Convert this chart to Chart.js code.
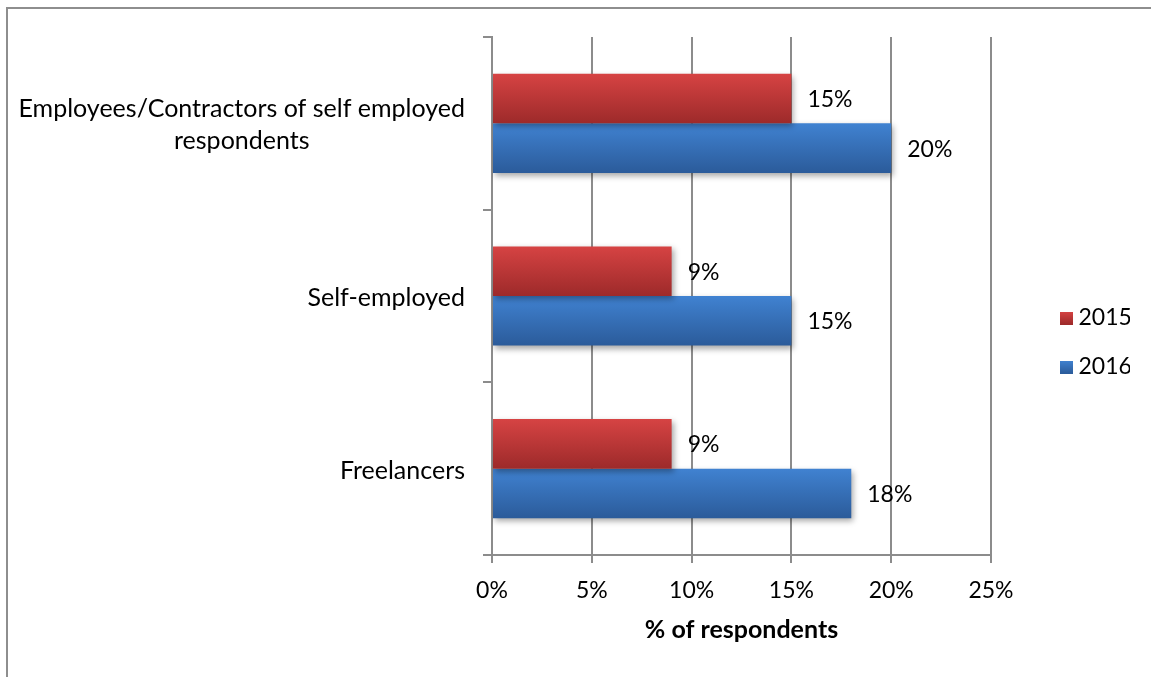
<!DOCTYPE html>
<html>
<head>
<meta charset="utf-8">
<script src="https://cdn.jsdelivr.net/npm/chart.js@4.4.1/dist/chart.umd.min.js"></script>
<style>
  html, body { margin: 0; padding: 0; background: #fff; }
  #wrap { position: relative; width: 1151px; height: 677px; }
</style>
</head>
<body>
<div id="wrap"><canvas id="c"></canvas></div>
<script>
// Respondent groups, top to bottom
const categories = [
  ['Employees/Contractors of self employed', 'respondents'],
  'Self-employed',
  'Freelancers'
];
const seriesNames = ['2015', '2016'];
const values2015 = [15, 9, 9];
const values2016 = [20, 15, 18];
const xTicks = [0, 5, 10, 15, 20, 25];

const FONT = 'Lato';
const NUM_SIZE = 23;   // numbers: ticks, value labels, legend
const TEXT_SIZE = 25;  // words: category names, axis title
const GRID = '#8c8c8c';
const CAT_PCT = 0.574;
// top / bottom colours of each series' vertical gradient
const palettes = [['#d64343', '#9d2a2a'], ['#4082d1', '#2b5b9a']];

function barFill(ctx) {
  const pal = palettes[ctx.datasetIndex];
  const chart = ctx.chart;
  const y = chart.scales && chart.scales.y;
  if (!y || ctx.dataIndex === undefined) return pal[0];
  const n = chart.data.labels.length;
  const band = (y.bottom - y.top) / n;
  const size = band * CAT_PCT / chart.data.datasets.length;
  const start = y.getPixelForValue(ctx.dataIndex) - band * CAT_PCT / 2 + ctx.datasetIndex * size;
  if (!isFinite(start) || !isFinite(size) || size <= 0) return pal[0];
  const g = chart.ctx.createLinearGradient(0, start, 0, start + size);
  g.addColorStop(0, pal[0]);
  g.addColorStop(1, pal[1]);
  return g;
}

function legendKey(pal) {
  const k = document.createElement('canvas');
  k.width = 13; k.height = 13;
  const c = k.getContext('2d');
  const g = c.createLinearGradient(0, 0, 0, 13);
  g.addColorStop(0, pal[0]);
  g.addColorStop(1, pal[1]);
  c.fillStyle = g;
  c.fillRect(0, 0, 13, 13);
  return k;
}

// white page with the grey frame on the top and left edges
const frame = {
  id: 'frame',
  beforeDraw(chart) {
    const c = chart.ctx;
    c.save();
    c.fillStyle = '#fff';
    c.fillRect(0, 0, chart.width, chart.height);
    c.fillStyle = '#8e8e8e';
    c.fillRect(6, 7, 2, chart.height);
    c.fillRect(6, 7, chart.width, 2);
    c.restore();
  }
};

// soft drop shadow under the bars
const barShadow = {
  id: 'barShadow',
  beforeDatasetsDraw(chart) {
    const c = chart.ctx;
    c.save();
    c.shadowColor = 'rgba(0,0,0,0.35)';
    c.shadowBlur = 6;
    c.shadowOffsetX = 2;
    c.shadowOffsetY = 3;
  },
  afterDatasetsDraw(chart) {
    chart.ctx.restore();
  }
};

// value labels at the end of each bar
const valueLabels = {
  id: 'valueLabels',
  afterDraw(chart) {
    const c = chart.ctx;
    c.save();
    c.font = NUM_SIZE + 'px ' + FONT;
    c.fillStyle = '#000';
    c.textAlign = 'left';
    c.textBaseline = 'middle';
    chart.data.datasets.forEach((ds, di) => {
      chart.getDatasetMeta(di).data.forEach((el, i) => {
        c.fillText(ds.data[i] + '%', el.x + 16, el.y + 1);
      });
    });
    c.restore();
  }
};

// category names left of the axis; wrapped names are centred on their widest line
const categoryLabels = {
  id: 'categoryLabels',
  afterDraw(chart) {
    const c = chart.ctx;
    const y = chart.scales.y;
    const right = chart.chartArea.left - 27;
    c.save();
    c.font = TEXT_SIZE + 'px ' + FONT;
    c.fillStyle = '#000';
    c.textBaseline = 'middle';
    chart.data.labels.forEach((lab, i) => {
      const lines = [].concat(lab);
      const maxW = Math.max(...lines.map(l => c.measureText(l).width));
      const cy = y.getPixelForValue(i);
      const multi = lines.length > 1;
      lines.forEach((l, j) => {
        const ly = cy + 2 + (j - (lines.length - 1) / 2) * 32;
        c.textAlign = multi ? 'center' : 'right';
        c.fillText(l, multi ? right - maxW / 2 : right, ly);
      });
    });
    c.restore();
  }
};

new Chart(document.getElementById('c'), {
  type: 'bar',
  data: {
    labels: categories,
    datasets: [
      { label: seriesNames[0], data: values2015, backgroundColor: barFill, borderWidth: 0,
        pointStyle: legendKey(palettes[0]), categoryPercentage: CAT_PCT, barPercentage: 1 },
      { label: seriesNames[1], data: values2016, backgroundColor: barFill, borderWidth: 0,
        pointStyle: legendKey(palettes[1]), categoryPercentage: CAT_PCT, barPercentage: 1 }
    ]
  },
  options: {
    indexAxis: 'y',
    responsive: true,
    maintainAspectRatio: false,
    animation: false,
    layout: { padding: { top: 37, bottom: 29, left: 0, right: 21 } },
    scales: {
      x: {
        type: 'linear',
        min: 0,
        max: 25,
        afterBuildTicks(s) { s.ticks = xTicks.map(v => ({ value: v })); },
        afterFit(s) { s.height = 93; },
        grid: { color: GRID, lineWidth: 2, drawTicks: true, tickLength: 8, tickColor: GRID },
        border: { display: true, color: GRID, width: 2 },
        ticks: {
          padding: 14,
          color: '#000',
          font: { family: FONT, size: NUM_SIZE },
          callback: v => v + '%'
        },
        title: {
          display: true,
          text: '% of respondents',
          color: '#000',
          font: { family: FONT, size: TEXT_SIZE, weight: 'bold' },
          padding: { top: 0, bottom: 3 }
        }
      },
      y: {
        type: 'category',
        z: 1,
        afterFit(s) { s.width = 492; },
        grid: { display: true, drawOnChartArea: false, drawTicks: true, tickLength: 9,
                offset: true, color: GRID, tickColor: GRID, lineWidth: 2 },
        border: { display: true, color: GRID, width: 2 },
        ticks: { display: false }
      },
      gap: {
        type: 'category',
        position: 'right',
        afterFit(s) { s.width = 49; },
        grid: { display: false },
        border: { display: false },
        ticks: { display: false }
      }
    },
    plugins: {
      legend: {
        position: 'right',
        align: 'center',
        maxWidth: 90,
        labels: {
          usePointStyle: true,
          pointStyleWidth: 1,
          padding: 26,
          color: '#000',
          font: { family: FONT, size: NUM_SIZE }
        }
      },
      tooltip: { enabled: false }
    }
  },
  plugins: [frame, barShadow, valueLabels, categoryLabels]
});
</script>
</body>
</html>
